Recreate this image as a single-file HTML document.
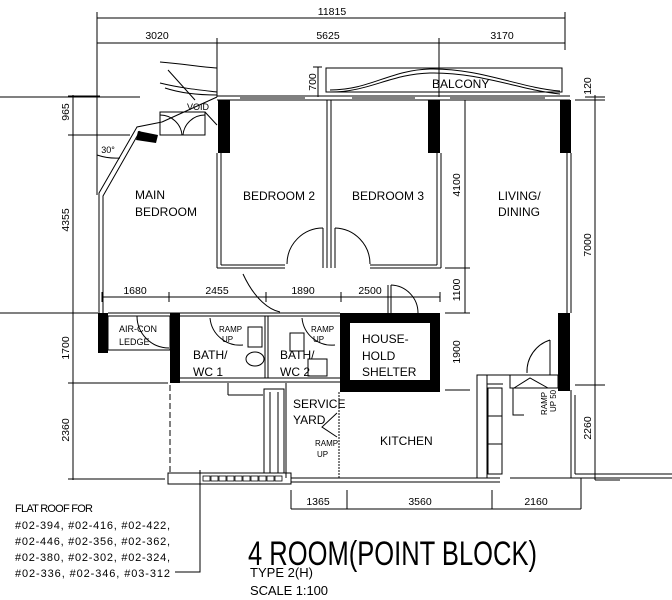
<!DOCTYPE html>
<html><head><meta charset="utf-8"><style>
html,body{margin:0;padding:0;background:#fff;width:672px;height:600px;overflow:hidden}
svg{display:block}
text{font-family:"Liberation Sans",sans-serif;fill:#000}
</style></head><body>
<svg width="672" height="600" viewBox="0 0 672 600" xmlns="http://www.w3.org/2000/svg">
<g stroke="#000" stroke-width="1" fill="none">
<line x1="97" y1="18" x2="565" y2="18"/>
<line x1="97" y1="43" x2="565" y2="43"/>
<line x1="97" y1="12" x2="97" y2="195"/>
<line x1="565" y1="12" x2="565" y2="50"/>
<line x1="217" y1="38" x2="217" y2="97"/>
<line x1="439" y1="38" x2="439" y2="97"/>
<rect x="326" y="68" width="236" height="24"/>
<path d="M330 90 C370 90 390 70 430 69 C480 68 520 88 560 91"/>
<path d="M330 92 C370 92 390 74 430 73 C480 72 520 90 560 94"/>
<path d="M160 62 C185 64 200 67 217 68"/>
<path d="M160 83 C180 88 200 90 217 92"/>
<path d="M165 88 C180 93 200 95 217 95"/>
<line x1="0" y1="97" x2="140" y2="97"/>
<line x1="318" y1="67" x2="318" y2="97"/>
<line x1="313" y1="67" x2="322" y2="67"/>
<line x1="217" y1="96" x2="570" y2="96"/>
<line x1="217" y1="100" x2="570" y2="100"/>
<line x1="240" y1="98" x2="305" y2="98"/>
<line x1="352" y1="98" x2="415" y2="98"/>
<line x1="450" y1="98" x2="545" y2="98"/>
<line x1="595" y1="95" x2="595" y2="480"/>
<line x1="585" y1="97" x2="605" y2="97"/>
<line x1="575" y1="100" x2="605" y2="100"/>
<line x1="575" y1="385" x2="605" y2="385"/>
<line x1="595" y1="480" x2="620" y2="480"/>
</g>
<g fill="#000">
<rect x="218" y="100" width="12" height="53"/>
<rect x="428" y="100" width="12" height="53"/>
<rect x="560" y="100" width="11" height="53"/>
<polygon points="138,131 158,135 156,143 136,140"/>
<rect x="98" y="313" width="10" height="40"/>
<rect x="170" y="313" width="10" height="70"/>
<rect x="558" y="313" width="12" height="78"/>
<path d="M340 313 H440 V392 H340 Z M350 323 V380 H430 V323 Z" fill-rule="evenodd"/>
</g>
<g stroke="#000" stroke-width="1" fill="none">
<line x1="217" y1="153" x2="217" y2="268"/>
<line x1="221" y1="153" x2="221" y2="265"/>
<line x1="217" y1="268" x2="285" y2="268"/>
<line x1="221" y1="265" x2="285" y2="265"/>
<line x1="370" y1="268" x2="441" y2="268"/>
<line x1="370" y1="265" x2="437" y2="265"/>
<line x1="327" y1="100" x2="327" y2="268"/>
<line x1="331" y1="100" x2="331" y2="268"/>
<line x1="437" y1="153" x2="437" y2="265"/>
<line x1="441" y1="153" x2="441" y2="268"/>
<path d="M323 228 A36 36 0 0 0 287 264"/>
<line x1="323" y1="228" x2="323" y2="268"/>
<path d="M335 228 A36 36 0 0 1 370 264"/>
<line x1="335" y1="228" x2="335" y2="268"/>
<path d="M243 274 C255 300 270 310 280 312"/>
<line x1="465" y1="100" x2="465" y2="313"/>
<line x1="445" y1="268" x2="470" y2="268"/>
<line x1="567" y1="153" x2="567" y2="313"/>
<line x1="571" y1="153" x2="571" y2="313"/>
<line x1="571" y1="390" x2="571" y2="478"/>
<line x1="575" y1="395" x2="575" y2="474"/>
<line x1="575" y1="474" x2="672" y2="474"/>
<line x1="571" y1="478" x2="672" y2="478"/>
<polyline points="99,353 99,193 137,127 162,122"/>
<polyline points="103,353 103,196 140,131"/>
<line x1="162" y1="122" x2="217" y2="97"/>
<rect x="160" y="112" width="45" height="23"/>
<path d="M160 115 A22 22 0 0 1 182 135"/>
<path d="M205 115 A22 22 0 0 0 183 135"/>
<line x1="205" y1="112" x2="217" y2="125"/>
<path d="M97 155 A60 60 0 0 0 120 158"/>
<line x1="168" y1="70" x2="195" y2="100"/>
<line x1="102" y1="297" x2="440" y2="297"/>
<line x1="102" y1="292" x2="102" y2="302"/>
<line x1="169" y1="292" x2="169" y2="302"/>
<line x1="266" y1="292" x2="266" y2="302"/>
<line x1="341" y1="292" x2="341" y2="302"/>
<line x1="440" y1="292" x2="440" y2="302"/>
<line x1="388" y1="285" x2="388" y2="313"/>
<line x1="391" y1="285" x2="391" y2="313"/>
<path d="M391 285 A28 28 0 0 1 418 313"/>
<line x1="445" y1="313" x2="470" y2="313"/>
<line x1="445" y1="390" x2="470" y2="390"/>
<line x1="0" y1="313" x2="98" y2="313"/>
<line x1="108" y1="313" x2="340" y2="313"/>
<line x1="108" y1="316" x2="340" y2="316"/>
<rect x="108" y="316" width="62" height="34"/>
<path d="M137 316 A32 32 0 0 0 169 348"/>
<line x1="180" y1="378" x2="340" y2="378"/>
<line x1="180" y1="382" x2="340" y2="382"/>
<line x1="265" y1="316" x2="265" y2="378"/>
<line x1="268" y1="316" x2="268" y2="378"/>
<path d="M210 318 A30 30 0 0 0 243 345"/>
<path d="M302 318 A30 30 0 0 0 335 345"/>
<rect x="248" y="327" width="14" height="20"/>
<rect x="290" y="333" width="14" height="18"/>
<rect x="308" y="359" width="19" height="17"/>
<ellipse cx="255" cy="359" rx="9" ry="7"/>
<line x1="170" y1="385" x2="170" y2="475" stroke-dasharray="6,3"/>
<line x1="228" y1="383" x2="228" y2="395"/>
<line x1="228" y1="395" x2="263" y2="395"/>
<rect x="264" y="389" width="20" height="84"/>
<line x1="270" y1="392" x2="270" y2="473"/>
<line x1="278" y1="392" x2="278" y2="473"/>
<line x1="286" y1="383" x2="286" y2="478"/>
<line x1="339" y1="392" x2="339" y2="478" stroke-dasharray="2,1"/>
<polyline points="337,413 322,427 337,437"/>
<rect x="168" y="473" width="123" height="11"/>
<g stroke-width="0.8"><rect x="203" y="476" width="7" height="5"/><rect x="211" y="476" width="7" height="5"/><rect x="219" y="476" width="7" height="5"/><rect x="227" y="476" width="7" height="5"/><rect x="235" y="476" width="7" height="5"/><rect x="243" y="476" width="7" height="5"/><rect x="251" y="476" width="7" height="5"/><rect x="259" y="476" width="7" height="5"/><rect x="267" y="476" width="7" height="5"/><rect x="275" y="476" width="7" height="5"/></g>
<line x1="291" y1="478" x2="500" y2="478"/>
<line x1="291" y1="482" x2="500" y2="482"/>
<rect x="477" y="375" width="10" height="103"/>
<line x1="477" y1="375" x2="510" y2="375"/>
<line x1="487" y1="384" x2="503" y2="384"/>
<rect x="488" y="388" width="14" height="28"/>
<rect x="488" y="416" width="14" height="28"/>
<rect x="488" y="444" width="14" height="30"/>
<rect x="510" y="375" width="48" height="13"/>
<polyline points="513,388 513,415 524,415"/>
<polyline points="514,388 530,378 548,388"/>
<path d="M527 373 A33 33 0 0 1 550 340"/>
<line x1="550" y1="340" x2="550" y2="375"/>
<line x1="291" y1="509" x2="581" y2="509"/>
<line x1="291" y1="490" x2="291" y2="509"/>
<line x1="347" y1="490" x2="347" y2="509"/>
<line x1="492" y1="490" x2="492" y2="509"/>
<line x1="581" y1="478" x2="581" y2="509"/>
<line x1="510" y1="478" x2="581" y2="478"/>
<line x1="73" y1="95" x2="73" y2="480"/>
<line x1="68" y1="96" x2="100" y2="96"/>
<line x1="68" y1="135" x2="130" y2="135"/>
<line x1="68" y1="313" x2="95" y2="313"/>
<line x1="68" y1="383" x2="168" y2="383"/>
<line x1="68" y1="479" x2="165" y2="479"/>
<polyline points="175,572 200,572 200,470"/>
</g>
<g font-size="10.5" text-anchor="middle">
<text x="332" y="15">11815</text>
<text x="157" y="39">3020</text>
<text x="328" y="39">5625</text>
<text x="502" y="39">3170</text>
<text x="135" y="294">1680</text>
<text x="217" y="294">2455</text>
<text x="303" y="294">1890</text>
<text x="370" y="294">2500</text>
<text x="318" y="505">1365</text>
<text x="420" y="505">3560</text>
<text x="536" y="505">2160</text>
<text transform="translate(69,112) rotate(-90)">965</text>
<text transform="translate(69,220) rotate(-90)">4355</text>
<text transform="translate(69,348) rotate(-90)">1700</text>
<text transform="translate(69,430) rotate(-90)">2360</text>
<text transform="translate(316,82) rotate(-90)">700</text>
<text transform="translate(460,185) rotate(-90)">4100</text>
<text transform="translate(460,290) rotate(-90)">1100</text>
<text transform="translate(460,352) rotate(-90)">1900</text>
<text transform="translate(591,86) rotate(-90)">120</text>
<text transform="translate(591,245) rotate(-90)">7000</text>
<text transform="translate(591,428) rotate(-90)">2260</text>
<text x="108" y="153" font-size="9">30°</text>
</g>
<g font-size="12">
<text x="135" y="199">MAIN</text>
<text x="135" y="216">BEDROOM</text>
<text x="243" y="200">BEDROOM 2</text>
<text x="352" y="200">BEDROOM 3</text>
<text x="498" y="200">LIVING/</text>
<text x="498" y="216">DINING</text>
<text x="432" y="88">BALCONY</text>
<text x="187" y="110" font-size="9">VOID</text>
<text x="119" y="332" font-size="9">AIR-CON</text>
<text x="119" y="345" font-size="9">LEDGE</text>
<text x="219" y="332" font-size="8">RAMP</text>
<text x="222" y="342" font-size="8">UP</text>
<text x="311" y="332" font-size="8">RAMP</text>
<text x="313" y="342" font-size="8">UP</text>
<text x="193" y="359">BATH/</text>
<text x="193" y="376">WC 1</text>
<text x="280" y="359">BATH/</text>
<text x="280" y="376">WC 2</text>
<text x="362" y="343">HOUSE-</text>
<text x="362" y="360">HOLD</text>
<text x="362" y="376">SHELTER</text>
<text x="293" y="408">SERVICE</text>
<text x="293" y="424">YARD</text>
<text x="315" y="446" font-size="8">RAMP</text>
<text x="317" y="457" font-size="8">UP</text>
<text x="380" y="445">KITCHEN</text>
<text transform="translate(547,415) rotate(-90)" font-size="8">RAMP</text>
<text transform="translate(556,412) rotate(-90)" font-size="8">UP 50</text>
</g>
<g font-size="11">
<text x="15" y="512" textLength="78">FLAT ROOF FOR</text>
<text x="15" y="529" textLength="155">#02-394, #02-416, #02-422,</text>
<text x="15" y="545" textLength="155">#02-446, #02-356, #02-362,</text>
<text x="15" y="561" textLength="155">#02-380, #02-302, #02-324,</text>
<text x="15" y="577" textLength="155">#02-336, #02-346, #03-312</text>
</g>
<text x="248" y="565" font-size="34" textLength="289" lengthAdjust="spacingAndGlyphs" style="font-weight:300">4 ROOM(POINT BLOCK)</text>
<text x="250" y="577" font-size="13" textLength="63">TYPE 2(H)</text>
<text x="250" y="595" font-size="13" textLength="78">SCALE 1:100</text>
</svg>
</body></html>
